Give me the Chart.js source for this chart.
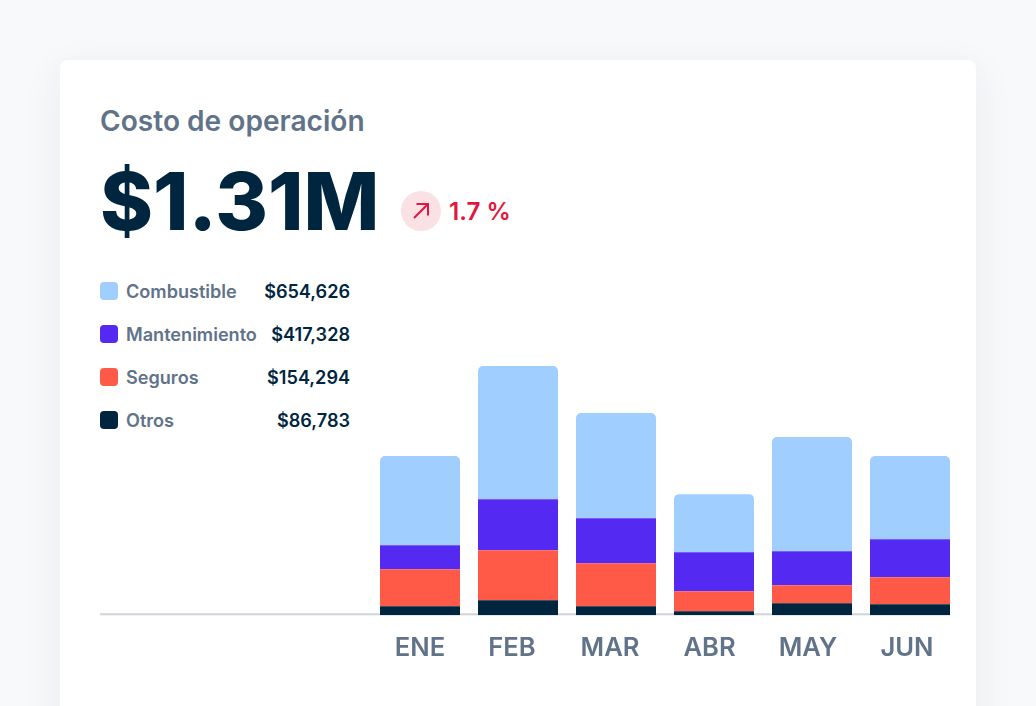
<!DOCTYPE html>
<html>
    <head>
        <title>Costo de operación</title>
        <meta charset="UTF-8">
        <script src="https://cdn.jsdelivr.net/npm/chart.js@4"></script>
        <style>
            html, body {
                margin: 0;
                height: 706px;
                overflow: hidden;
                background: #f8f9fb;
                font-family: Inter, sans-serif;
            }
            .card {
                position: absolute;
                left: 60px;
                top: 60px;
                width: 916px;
                height: 700px;
                background: #fff;
                border-radius: 8px;
                box-shadow: 0 10px 40px rgba(0, 38, 63, 0.07);
            }
            .title {
                position: absolute;
                left: 100px;
                top: 104px;
                font-size: 28.1px;
                line-height: 34px;
                font-weight: 600;
                color: #617389;
                white-space: nowrap;
            }
            .total {
                position: absolute;
                left: 100px;
                top: 152px;
                font-size: 80.4px;
                line-height: 97px;
                font-weight: 800;
                color: #00263f;
                white-space: nowrap;
            }
            .badge {
                position: absolute;
                left: 401px;
                top: 191px;
                width: 40px;
                height: 40px;
                border-radius: 50%;
                background: #fae1e4;
            }
            .badge svg {
                display: block;
            }
            .delta {
                position: absolute;
                left: 449px;
                top: 197px;
                font-size: 24.2px;
                line-height: 30px;
                font-weight: 600;
                color: #e3173e;
                white-space: nowrap;
            }
            .legend-row {
                position: absolute;
                left: 100px;
                width: 250px;
                height: 23px;
                line-height: 23px;
                font-size: 18.1px;
                font-weight: 600;
            }
            .legend-row i {
                position: absolute;
                left: 0;
                top: 2px;
                width: 18px;
                height: 18px;
                border-radius: 4px;
            }
            .legend-row .name {
                position: absolute;
                left: 26px;
                color: #617389;
                white-space: nowrap;
            }
            .legend-row .val {
                position: absolute;
                right: 0;
                color: #00263f;
                white-space: nowrap;
            }
            #myChart {
                position: absolute;
                left: 100px;
                top: 360px;
            }
        </style>
    </head>
    <body>
        <div class="card"></div>
        <div class="title">Costo de operación</div>
        <div class="total">$1.31M</div>
        <div class="badge">
            <svg width="40" height="40" viewBox="0 0 40 40" fill="none" stroke="#e3173e" stroke-width="2">
                <path d="M13 27 L27 13 M15.5 13 H27 V24.5"/>
            </svg>
        </div>
        <div class="delta">1.7 %</div>
        <div id="legend"></div>
        <canvas id="myChart" width="859" height="314"></canvas>

        <script>
            var months = ['ENE', 'FEB', 'MAR', 'ABR', 'MAY', 'JUN'];
            // values in thousands of dollars
            var combustible = [89, 133, 105, 58, 114, 83];
            var mantenimiento = [24, 51, 45, 39, 34, 38];
            var seguros = [37, 50, 43, 20, 18, 27];
            var otros = [9, 15, 9, 4, 12, 11];

            var legendNames = ['Combustible', 'Mantenimiento', 'Seguros', 'Otros'];
            var legendValues = ['$654,626', '$417,328', '$154,294', '$86,783'];
            var colors = ['#a0cfff', '#5429f2', '#ff5a47', '#00263f'];

            // the month labels are not centred under their bars in the original
            var labelNudge = [0, -6, -6, -4.5, -4, -3];

            var legend = document.getElementById('legend');
            for (var i = 0; i < legendNames.length; i++) {
                var row = document.createElement('div');
                row.className = 'legend-row';
                row.style.top = (280 + i * 43) + 'px';
                row.innerHTML = '<i style="background:' + colors[i] + '"></i><span class="name">' + legendNames[i] +
                        '</span><span class="val">' + legendValues[i] + '</span>';
                legend.appendChild(row);
            }

            // axis line runs left under the legend, past the first bar
            var baseline = {
                id: 'baseline',
                beforeDatasetsDraw: function (chart) {
                    var c = chart.ctx;
                    var y = chart.scales.y.getPixelForValue(0);
                    c.save();
                    c.fillStyle = '#cfd4da';
                    c.fillRect(0, y - 2, 850, 2);
                    c.restore();
                }
            };

            var nudgeLabels = {
                id: 'nudgeLabels',
                afterLayout: function (chart) {
                    chart.scales.x._labelItems = null;
                },
                beforeDraw: function (chart) {
                    if (chart.scales.x._labelItems) {
                        return;
                    }
                    chart.scales.x.getLabelItems().forEach(function (item, i) {
                        item.options.translation[0] += labelNudge[i];
                    });
                }
            };

            new Chart(document.getElementById('myChart'), {
                type: 'bar',
                plugins: [baseline, nudgeLabels],
                data: {
                    labels: months,
                    datasets: [
                        {label: 'Otros', data: otros, backgroundColor: colors[3]},
                        {label: 'Seguros', data: seguros, backgroundColor: colors[2]},
                        {label: 'Mantenimiento', data: mantenimiento, backgroundColor: colors[1]},
                        {label: 'Combustible', data: combustible, backgroundColor: colors[0],
                            borderRadius: {topLeft: 5, topRight: 5, bottomLeft: 0, bottomRight: 0}, borderSkipped: false}
                    ]
                },
                options: {
                    responsive: false,
                    animation: false,
                    layout: {padding: {left: 271, right: 0, top: 0, bottom: 0}},
                    plugins: {legend: {display: false}, tooltip: {enabled: false}},
                    datasets: {bar: {barThickness: 80, inflateAmount: 0}},
                    scales: {
                        x: {
                            stacked: true,
                            grid: {display: false},
                            border: {display: false},
                            ticks: {
                                color: '#617389',
                                padding: 10,
                                maxRotation: 0,
                                font: {family: 'Inter', size: 25.6, weight: '600'}
                            }
                        },
                        y: {
                            stacked: true,
                            display: false,
                            min: 0,
                            max: 255
                        }
                    }
                }
            });
        </script>
    </body>
</html>
